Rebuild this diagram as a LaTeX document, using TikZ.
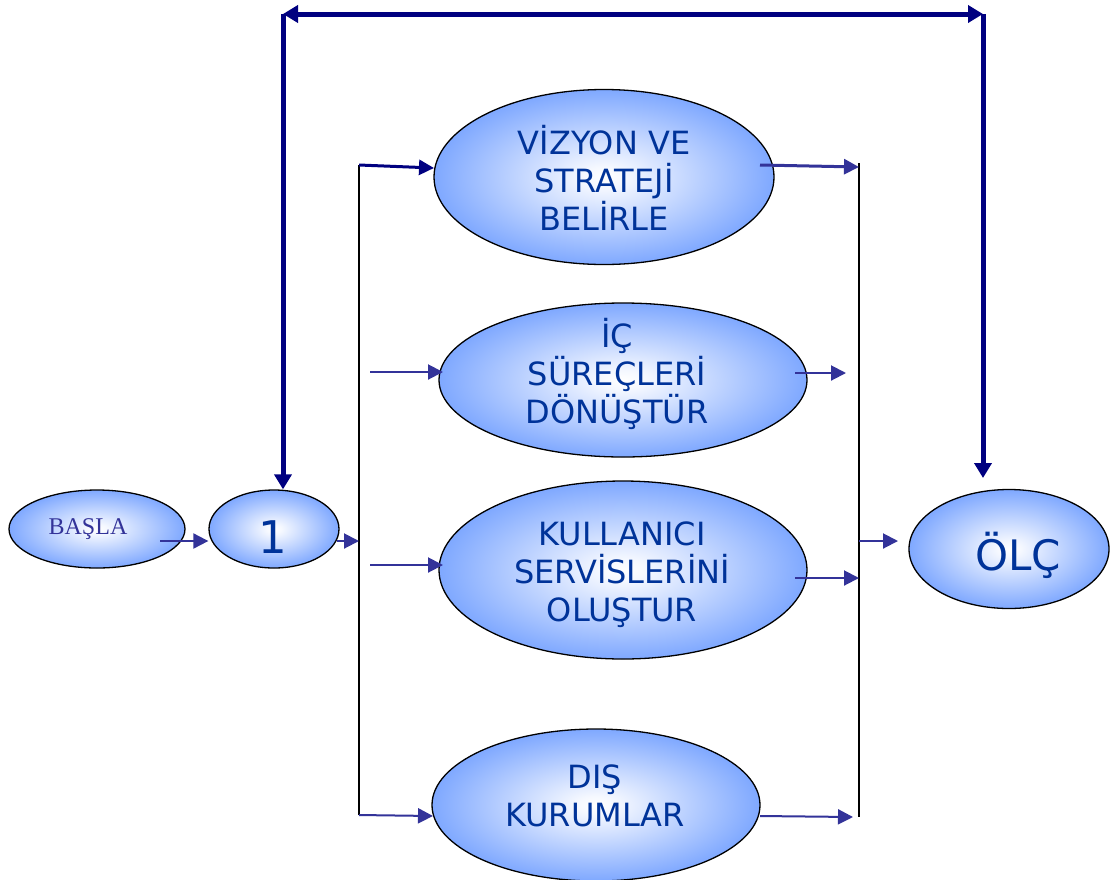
\documentclass[tikz,border=0pt]{standalone}
\usepackage{fontspec}
\setmainfont{DejaVu Sans}
\newfontfamily\serifface{Liberation Serif}
\usetikzlibrary{shapes.geometric,arrows.meta}

\definecolor{ovalblue}{RGB}{100,150,255}
\definecolor{ovalcore}{RGB}{245,248,255}
\definecolor{labelblue}{RGB}{0,51,153}
\definecolor{linkblue}{RGB}{51,51,153}
\definecolor{loopnavy}{RGB}{0,0,128}

% white core fading to blue towards the rim of each oval
\pgfdeclareradialshading{ovalfill}{\pgfpoint{0bp}{0bp}}{%
  color(0bp)=(white); color(3bp)=(ovalcore); color(30bp)=(ovalblue); color(50bp)=(ovalblue)}

\tikzset{looptip/.tip={Triangle[length=15pt,width=17pt]}}

\begin{document}
\begin{tikzpicture}[x=1pt,y=-1pt,
  oval/.style={ellipse, draw=black, line width=1.3pt, shading=ovalfill, inner sep=0pt},
  caption/.style={text=labelblue, align=center, inner sep=0pt, font=\fontsize{32}{38}\selectfont},
  link/.style={draw=linkblue, line width=2pt, -{Triangle[length=15pt,width=15pt]}},
  mainlink/.style={link, draw=loopnavy, line width=3pt},
  bus/.style={draw=black, line width=2.5pt},
  loopline/.style={draw=loopnavy, line width=5pt}]

\fill[white] (0,0) rectangle (1111,879);
\useasboundingbox (0,0) rectangle (1111,879);

% ovals
\node[oval, minimum width=176pt, minimum height=78pt]  (basla)  at (97,529)  {};
\node[oval, minimum width=130pt, minimum height=78pt]  (one)    at (274,529) {};
\node[oval, minimum width=340pt, minimum height=175pt] (vision) at (604,177) {};
\node[oval, minimum width=368pt, minimum height=154pt] (inner)  at (623,380) {};
\node[oval, minimum width=368pt, minimum height=178pt] (users)  at (623,570) {};
\node[oval, minimum width=328pt, minimum height=152pt] (outer)  at (596,805) {};
\node[oval, minimum width=200pt, minimum height=119pt] (measure) at (1009,549) {};

% oval texts
\node[anchor=base, text=linkblue, inner sep=0pt, font=\serifface\fontsize{24}{24}\selectfont]
  (baslatext) at (88,534) {BAŞLA};
\node[anchor=base, text=labelblue, inner sep=0pt, font=\fontsize{45}{45}\selectfont]
  (onetext) at (273,553) {1};
\node[caption] (visiontext) at (604,178) {VİZYON VE\\STRATEJİ\\BELİRLE};
\node[caption] (innertext)  at (617,374) {İÇ\\SÜREÇLERİ\\DÖNÜŞTÜR};
\node[caption] (userstext)  at (622,575) {KULLANICI\\SERVİSLERİNİ\\OLUŞTUR};
\node[caption] (outertext)  at (595,796) {DIŞ\\KURUMLAR};
\node[anchor=base, text=labelblue, inner sep=0pt, font=\fontsize{42}{42}\selectfont]
  (measuretext) at (1018,570) {ÖLÇ};

% distribution and collection bars
\coordinate (busLtop) at (359,165);
\coordinate (busLbot) at (359,815);
\coordinate (busRtop) at (859,163);
\coordinate (busRbot) at (859,817);
\draw[bus] (busLtop) -- (busLbot);
\draw[bus] (busRtop) -- (busRbot);

% thin connectors
\coordinate (startout) at (160,541);
\draw[link] (startout) -- (startout -| one.west);
\coordinate (oneout) at (337,541);
\draw[link] (oneout) -- (oneout -| busLtop);

\coordinate (visionin) at (434,168);
\draw[mainlink] (busLtop) -- (visionin);
\coordinate (innerfrom) at (370,372);
\coordinate (innerin) at (443,372);
\draw[link] (innerfrom) -- (innerin);
\coordinate (usersfrom) at (370,565);
\coordinate (usersin) at (443,565);
\draw[link] (usersfrom) -- (usersin);
\coordinate (outerin) at (433,816);
\draw[link] (busLbot) -- (outerin);

\coordinate (visionout) at (760,165);
\coordinate (visionto) at (859,167);
\draw[link, line width=3pt] (visionout) -- (visionto);
\coordinate (innerout) at (795,373);
\coordinate (innerto) at (846,373);
\draw[link] (innerout) -- (innerto);
\coordinate (usersout) at (795,578);
\draw[link] (usersout) -- (usersout -| busRtop);
\coordinate (outerout) at (760,816);
\coordinate (outerto) at (853,817);
\draw[link] (outerout) -- (outerto);
\coordinate (measurefrom) at (859,541);
\coordinate (measurein) at (898,541);
\draw[link] (measurefrom) -- (measurein);

% feedback loop between the first step and the measurement
\coordinate (loopL) at (283,14);
\coordinate (loopR) at (983,14);
\draw[loopline, looptip-looptip] (loopL) -- (loopR);
\draw[loopline, -looptip] (loopL) -- (loopL |- one.north);
\coordinate (measuretop) at (983,478);
\draw[loopline, -looptip] (loopR) -- (measuretop);
\end{tikzpicture}
\end{document}
